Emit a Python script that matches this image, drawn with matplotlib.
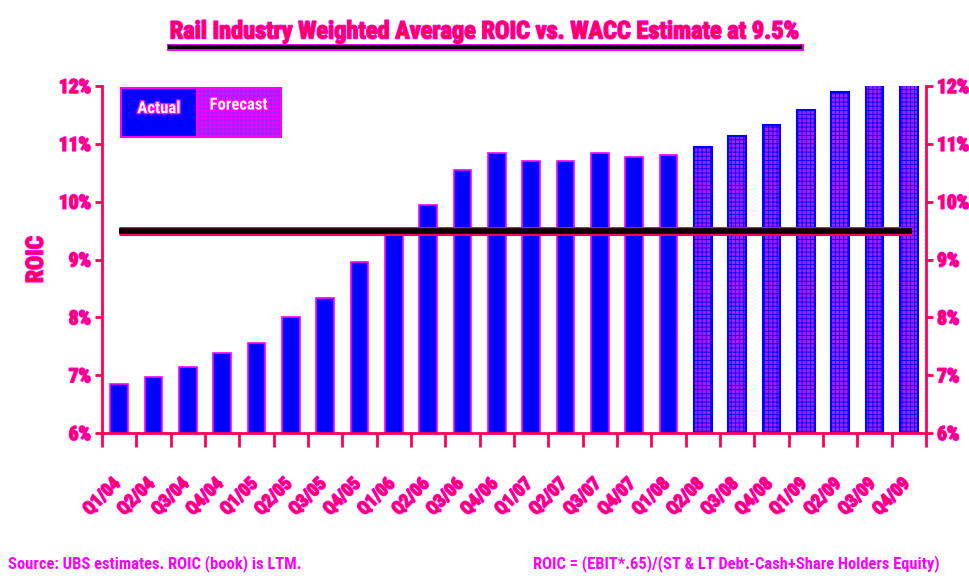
import matplotlib
matplotlib.use("Agg")
import matplotlib.pyplot as plt
import matplotlib.patheffects as pe
import matplotlib.transforms as mtransforms
from matplotlib import font_manager as fm
from matplotlib.patches import Rectangle
import numpy as np

# quarters and ROIC values (%)
quarters = ["Q1/04", "Q2/04", "Q3/04", "Q4/04", "Q1/05", "Q2/05", "Q3/05", "Q4/05",
            "Q1/06", "Q2/06", "Q3/06", "Q4/06", "Q1/07", "Q2/07", "Q3/07", "Q4/07",
            "Q1/08", "Q2/08", "Q3/08", "Q4/08", "Q1/09", "Q2/09", "Q3/09", "Q4/09"]
roic = [6.85, 6.97, 7.14, 7.39, 7.56, 8.01, 8.34, 8.95,
        9.50, 9.95, 10.54, 10.85, 10.71, 10.71, 10.85, 10.77,
        10.80, 10.94, 11.13, 11.32, 11.58, 11.89, 12.06, 12.06]
n_actual = 17  # Q1/04 .. Q1/08 actual, the rest forecast
wacc = 9.5
y_ticks = [6, 7, 8, 9, 10, 11, 12]
y_labels = ["6%", "7%", "8%", "9%", "10%", "11%", "12%"]

RED = "#ff0055"
MAG = "#ff00ff"
BLUE = "#0000ff"
PURPLE = "#a020ff"


def pick_font():
    # look for a narrow font, else plain Liberation Sans
    fonts = fm.fontManager.ttflist
    names = {f.name for f in fonts}
    for cand in ["Liberation Sans Narrow", "DejaVu Sans Condensed", "Roboto Condensed",
                 "Open Sans Condensed"]:
        if cand in names:
            return cand, "normal"
    for f in fonts:
        if f.name == "DejaVu Sans" and str(f.stretch) in ("condensed", "semi-condensed", "500"):
            if "ondensed" in f.fname:
                return "DejaVu Sans", "condensed"
    return "Liberation Sans", "normal"


FAMILY, STRETCH = pick_font()
FONT = [FAMILY, "DejaVu Sans"]
halo = [pe.withStroke(linewidth=1.2, foreground=MAG)]


def style_text(lab, size):
    lab.set_fontfamily(FONT)
    lab.set_fontstretch(STRETCH)
    lab.set_fontsize(size)
    lab.set_fontweight("bold")
    lab.set_path_effects(halo)


def fit_width(fig, txt, target_px):
    # resize a text so that it spans about target_px pixels
    r = fig.canvas.get_renderer()
    for _ in range(3):
        w = txt.get_window_extent(renderer=r).width
        txt.set_fontsize(txt.get_fontsize() * target_px / w)


fig = plt.figure(figsize=(9.7, 5.81), dpi=100)
ax = fig.add_axes([0.1052, 0.2547, 0.8494, 0.5973])

x = np.arange(len(quarters))
ax.bar(x[:n_actual], roic[:n_actual], width=0.52,
       color=BLUE, edgecolor=MAG, linewidth=1.2, zorder=2)
plt.rcParams["hatch.linewidth"] = 0.6
ax.bar(x[n_actual:], roic[n_actual:], width=0.52,
       color=PURPLE, edgecolor=BLUE, linewidth=1.5, hatch="++++", zorder=2)

# WACC line
ax.plot([x[0], x[-1] + 0.1], [wacc, wacc], color="black", linewidth=4, zorder=3,
        solid_capstyle="butt",
        path_effects=[pe.Stroke(linewidth=6.5, foreground=RED), pe.Normal()])

ax.set_xlim(-0.5, len(quarters) - 0.5)
ax.set_ylim(6, 12)

# spines
for s in ["top", "right"]:
    ax.spines[s].set_visible(False)
for s in ["left", "bottom"]:
    ax.spines[s].set_color(RED)
    ax.spines[s].set_linewidth(2)

# y axis left
ax.set_yticks(y_ticks)
ax.set_yticklabels(y_labels)
ax.tick_params(axis="y", colors=RED, length=5, width=2, pad=3)
for lab in ax.get_yticklabels():
    style_text(lab, 14)

# x axis: ticks at slot boundaries, labels in the middle
ax.set_xticks(np.arange(len(quarters) + 1) - 0.5)
ax.set_xticklabels([])
ax.tick_params(axis="x", which="major", colors=RED, length=10, width=2, direction="out")
ax.set_xticks(x, minor=True)
ax.set_xticklabels(quarters, minor=True, rotation=45, ha="right", va="top",
                   rotation_mode="anchor")
ax.tick_params(axis="x", which="minor", length=0, pad=30, labelcolor=RED)
shift = mtransforms.ScaledTranslation(-8 / 100, 0, fig.dpi_scale_trans)
for lab in ax.get_xticklabels(minor=True):
    style_text(lab, 13)
    lab.set_transform(lab.get_transform() + shift)

ax.set_ylabel("ROIC", color=RED, fontsize=17, fontweight="bold", family=FONT,
              fontstretch=STRETCH, labelpad=8, path_effects=halo)

# right axis
ax2 = ax.twinx()
ax2.set_ylim(6, 12)
for s in ["top", "left", "bottom"]:
    ax2.spines[s].set_visible(False)
ax2.spines["right"].set_color(RED)
ax2.spines["right"].set_linewidth(2)
ax2.set_yticks(y_ticks)
ax2.set_yticklabels(y_labels)
ax2.tick_params(axis="y", colors=RED, length=5, width=2, pad=3)
for lab in ax2.get_yticklabels():
    style_text(lab, 14)

# legend boxes
ax.add_patch(Rectangle((0.023, 0.853), 0.092, 0.141, transform=ax.transAxes,
                       facecolor=BLUE, edgecolor=MAG, linewidth=1.5, zorder=5,
                       clip_on=False))
ax.add_patch(Rectangle((0.115, 0.853), 0.102, 0.141, transform=ax.transAxes,
                       facecolor=PURPLE, edgecolor=MAG, linewidth=1.5, hatch="++++",
                       zorder=5, clip_on=False))
white_halo = [pe.withStroke(linewidth=2, foreground=MAG)]
ax.text(0.069, 0.935, "Actual", transform=ax.transAxes, ha="center", va="center",
        color="white", fontsize=12, fontweight="bold", family=FONT,
        fontstretch=STRETCH, zorder=6, path_effects=white_halo)
ax.text(0.166, 0.945, "Forecast", transform=ax.transAxes, ha="center", va="center",
        color="white", fontsize=12, fontweight="bold", family=FONT,
        fontstretch=STRETCH, zorder=6, path_effects=white_halo)

# title with underline
t = fig.text(0.5, 0.945, "Rail Industry Weighted Average ROIC vs. WACC Estimate at 9.5%",
             ha="center", va="center", color=RED, fontsize=18, fontweight="bold",
             family=FONT, fontstretch=STRETCH, path_effects=halo)
f1 = fig.text(0.008, 0.022, "Source: UBS estimates. ROIC (book) is LTM.", color=MAG,
              fontsize=12, fontweight="bold", family=FONT, fontstretch=STRETCH)
f2 = fig.text(0.969, 0.022, "ROIC = (EBIT*.65)/(ST & LT Debt-Cash+Share Holders Equity)",
              color=MAG, fontsize=12, fontweight="bold", family=FONT,
              fontstretch=STRETCH, ha="right")
fig.canvas.draw()
fit_width(fig, t, 628)
fit_width(fig, f1, 292)
fit_width(fig, f2, 406)
fig.canvas.draw()
bb = t.get_window_extent().transformed(fig.transFigure.inverted())
fig.add_artist(plt.Line2D([bb.x0, bb.x1], [bb.y0 - 0.006, bb.y0 - 0.006],
                          transform=fig.transFigure, color="black", linewidth=3,
                          path_effects=[pe.Stroke(linewidth=5, foreground=MAG), pe.Normal()]))

fig.savefig("out.png", dpi=100)
